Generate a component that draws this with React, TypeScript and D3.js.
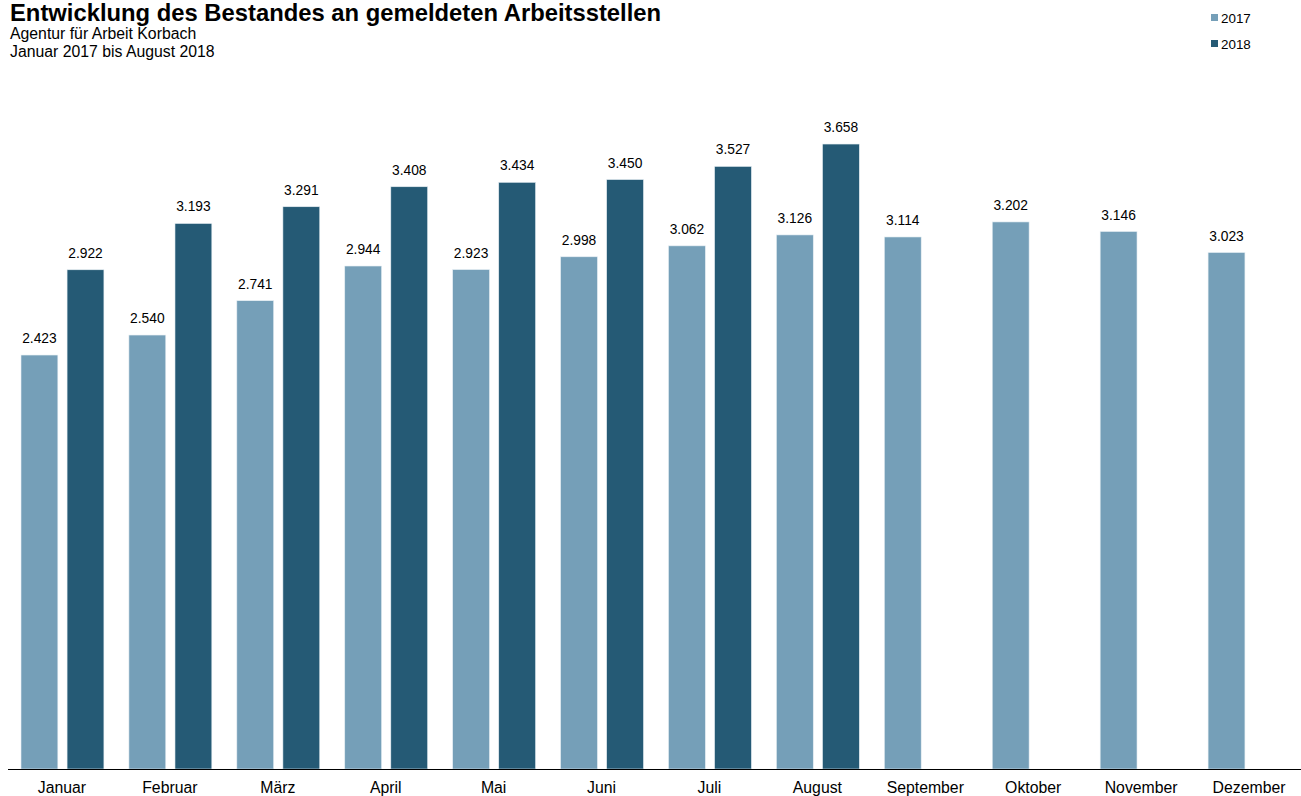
import React from "react";
import * as d3 from "d3";

const months = ["Januar","Februar","März","April","Mai","Juni","Juli","August","September","Oktober","November","Dezember"];
const values2017 = [2423,2540,2741,2944,2923,2998,3062,3126,3114,3202,3146,3023];
const values2018: (number|null)[] = [2922,3193,3291,3408,3434,3450,3527,3658,null,null,null,null];
const seriesNames = ["2017","2018"];
const colors = ["#759fb8","#255a75"];

const W = 1301, H = 796;
const fmt = (v: number) => d3.format(",")(v).replace(/,/g, ".");

export default function App() {
  const x = d3.scaleBand<string>().domain(months).range([8, 1303]).paddingInner(0).paddingOuter(0);
  const sub = d3.scaleBand<string>().domain(seriesNames).range([13, x.bandwidth() - 12]).paddingInner(0.2);
  const y = d3.scaleLinear().domain([0, 4000]).range([769, 85.6]);
  const font = "Liberation Sans, Arial, sans-serif";
  const series = [values2017, values2018];
  return (
    <svg width={W} height={H} style={{ position: "absolute", left: 0, top: 0 }} fontFamily={font}>
      <text x={10} y={21} fontSize={23.8} fontWeight="bold" fill="#000">Entwicklung des Bestandes an gemeldeten Arbeitsstellen</text>
      <text x={10} y={39} fontSize={15.8} fill="#000">Agentur für Arbeit Korbach</text>
      <text x={10} y={57} fontSize={15.8} fill="#000">Januar 2017 bis August 2018</text>
      {seriesNames.map((s, i) => (
        <g key={s} transform={`translate(1211,${14 + i * 26})`}>
          <rect x={0} y={0} width={7} height={7} fill={colors[i]} />
          <text x={10} y={8.5} fontSize={13.4} fill="#000">{s}</text>
        </g>
      ))}
      {months.map((m) => (
        <g key={m} transform={`translate(${x(m)},0)`}>
          {series.map((vals, si) => {
            const v = vals[months.indexOf(m)];
            if (v == null) return null;
            const bx = sub(seriesNames[si])!;
            return (
              <g key={si}>
                <rect x={bx} y={y(v)} width={sub.bandwidth()} height={y(0) - y(v)} fill={colors[si]} stroke="#e6eef3" strokeWidth={0.6} />
                <text x={bx + sub.bandwidth() / 2} y={y(v) - 12} textAnchor="middle" fontSize={13.8} fill="#000">{fmt(v)}</text>
              </g>
            );
          })}
          <text x={x.bandwidth() / 2} y={792.5} textAnchor="middle" fontSize={15.8} fill="#000">{m}</text>
        </g>
      ))}
      <line x1={8} x2={1301} y1={769.5} y2={769.5} stroke="#000" strokeWidth={1} />
    </svg>
  );
}
